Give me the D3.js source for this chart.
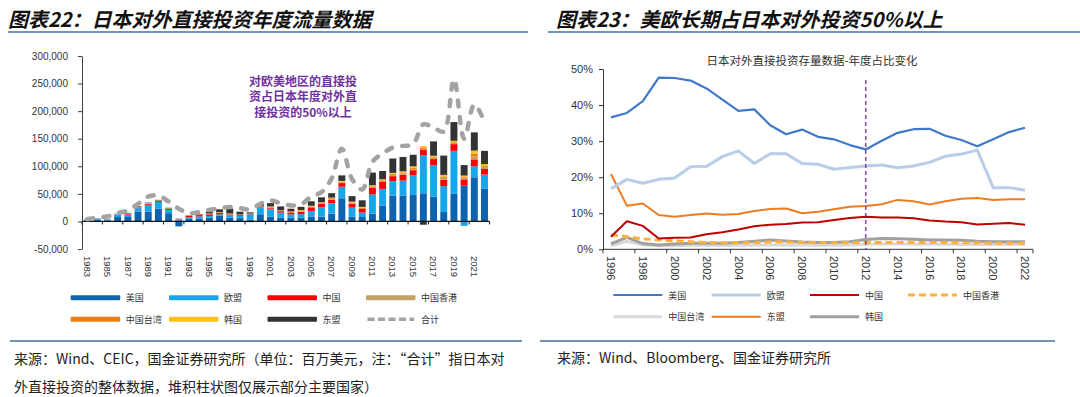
<!DOCTYPE html>
<html><head><meta charset="utf-8">
<script src="https://cdn.jsdelivr.net/npm/d3@7/dist/d3.min.js"></script>
<style>body{margin:0;background:#fff}svg{display:block}</style>
</head><body>
<svg id="c" width="1080" height="397"></svg>
<script>
// ---------- Left chart data: Japan outward FDI flows (USD mn) ----------
const flowYears = [1983,1984,1985,1986,1987,1988,1989,1990,1991,1992,1993,1994,1995,1996,1997,1998,1999,2000,2001,2002,2003,2004,2005,2006,2007,2008,2009,2010,2011,2012,2013,2014,2015,2016,2017,2018,2019,2020,2021,2022];
const usFlow = [1500,3000,2000,8000,8000,18000,18000,23000,15000,-9000,5000,5500,7000,10000,7000,6000,3000,13000,9000,7000,7000,7000,9000,8500,14000,42000,9000,8000,14000,29000,47000,47000,48000,51000,45000,17000,50000,65000,80000,59000];
const euFlow = [1500,2000,1500,4500,4000,6000,12000,12500,6000,2000,3000,3500,3000,3000,4000,4000,10000,12000,13000,9000,6000,6000,10000,17000,19000,21000,16000,8000,35000,30000,26000,27000,36000,69000,57000,47000,78000,-8000,20000,26000];
const cnFlow = [0,0,100,200,1200,1500,1500,1500,1800,1600,2000,2500,3000,2500,1800,1500,800,1000,2000,2600,3100,4500,6500,6200,6200,6500,6900,7300,12600,13500,9100,10900,8900,9500,11100,11400,12200,11200,12500,11000];
const hkFlow = [100,200,100,300,500,600,600,500,400,300,300,300,500,500,700,500,-1500,-1000,1200,500,-1000,1000,1000,1000,1500,1500,1500,-1000,1500,1500,2500,2000,2500,2000,2500,3500,2000,3000,5000,3000];
const twFlow = [100,100,100,200,300,400,400,300,300,300,300,300,500,500,500,300,300,1000,1500,600,1500,1000,1000,1000,1500,1000,1000,1500,1000,1000,1500,2000,2000,2500,1500,2500,1500,2000,5000,2500];
const krFlow = [100,100,100,200,400,500,600,300,300,200,200,400,400,400,400,300,400,500,500,500,500,1000,1000,1000,1000,1500,1500,1500,1500,1500,2000,2000,2500,2500,2000,3000,2500,2000,6000,2500];
const aseanFlow = [300,300,300,500,1000,1000,1000,1000,1000,500,500,1000,3500,5000,9000,5000,2000,5000,6000,7000,5000,6000,8000,9000,8000,10000,10000,12000,23000,15000,26000,26000,21000,-6000,26000,35000,34000,19000,33000,24000];
const totalFlow = [4000,7000,9000,15000,20000,32000,45000,47000,36000,23000,15000,17000,21000,24000,26000,24000,22000,32000,38000,33000,29000,31000,45000,53000,78000,132000,77000,58000,108000,123000,134000,137000,140000,176000,170000,163000,258000,150000,212000,180000];
const flowTicks = [-50000,0,50000,100000,150000,200000,250000,300000];
const flowYearLabels = [1983,1985,1987,1989,1991,1993,1995,1997,1999,2001,2003,2005,2007,2009,2011,2013,2015,2017,2019,2021];
const flowKeys = ["美国","欧盟","中国","中国香港","中国台湾","韩国","东盟"];
const flowColors = ["#0E63AF","#17A6EA","#FF0000","#C4A263","#EC7D12","#FAC11E","#333333"];

// ---------- Right chart data: share of Japan outward FDI stock (%) ----------
const stockYears = [1996,1997,1998,1999,2000,2001,2002,2003,2004,2005,2006,2007,2008,2009,2010,2011,2012,2013,2014,2015,2016,2017,2018,2019,2020,2021,2022];
const usShare = [36.6,37.8,41.1,47.6,47.5,46.8,44.6,41.5,38.4,38.8,34.4,31.9,33.2,31.2,30.5,28.9,27.7,30.1,32.3,33.3,33.4,31.5,30.3,28.6,30.5,32.5,33.7];
const euShare = [16.8,19.4,18.3,19.4,19.8,22.9,23.0,25.7,27.3,23.8,26.5,26.5,23.8,23.6,22.2,22.7,23.1,23.4,22.6,23.1,24.1,25.8,26.4,27.5,17.1,17.1,16.4];
const cnShare = [3.5,7.8,6.5,3.0,3.2,3.3,4.2,4.7,5.5,6.4,6.8,7.0,7.4,7.5,8.1,8.7,9.0,8.8,8.8,8.6,8.0,7.7,7.5,6.9,7.1,7.3,6.8];
const hkShare = [4.0,3.5,2.9,2.6,2.3,2.1,1.9,1.8,1.8,1.8,2.0,2.0,1.9,1.8,1.8,1.8,1.9,1.9,1.9,1.9,1.9,1.9,1.8,1.8,1.7,1.7,1.7];
const twShare = [1.0,2.2,1.2,1.0,1.0,1.1,1.1,1.1,1.1,1.2,1.2,1.2,1.2,1.1,1.1,1.2,1.4,1.5,1.5,1.4,1.4,1.4,1.3,1.3,1.3,1.3,1.3];
const krShare = [1.5,3.3,1.6,1.2,1.5,1.7,1.7,1.7,1.9,2.2,2.6,2.3,2.0,1.9,1.9,2.1,2.7,3.0,2.9,2.8,2.6,2.6,2.5,2.2,2.1,2.1,2.1];
const aseanShare = [20.9,12.1,12.7,9.5,9.0,9.5,9.9,9.6,9.8,10.6,11.2,11.3,10.0,10.4,11.1,11.8,12.0,12.5,13.7,13.3,12.4,13.3,14.0,14.2,13.7,13.9,13.9];
const shareTicks = [0,10,20,30,40,50];
const stockYearLabels = [1996,1998,2000,2002,2004,2006,2008,2010,2012,2014,2016,2018,2020,2022];

const CJK = "'Noto Sans CJK SC','Noto Sans',sans-serif";
const NUM = "'Liberation Sans',Arial,sans-serif";
const svg = d3.select("#c");

// ---------- Titles & rules ----------
const ruleColor = "#41709A";
svg.append("text").attr("x",8).attr("y",18).attr("dominant-baseline","central")
  .attr("font-family",CJK).attr("font-size",20).attr("font-weight","bold").attr("font-style","italic")
  .attr("fill","#111").text("图表22：日本对外直接投资年度流量数据");
svg.append("text").attr("x",556).attr("y",18).attr("dominant-baseline","central")
  .attr("font-family",CJK).attr("font-size",20).attr("font-weight","bold").attr("font-style","italic")
  .attr("fill","#111").text("图表23：美欧长期占日本对外投资50%以上");
[[8,528,32],[548,1080,32],[10,522,341],[540,1055,341]].forEach(([a,b,y])=>{
  svg.append("line").attr("x1",a).attr("x2",b).attr("y1",y).attr("y2",y)
    .attr("stroke",ruleColor).attr("stroke-width",1.4);
});

// ---------- Left chart ----------
const xL = d3.scaleBand().domain(flowYears).range([82,489.6]).padding(0);
const yL = d3.scaleLinear().domain([-50000,300000]).range([249,56]);
const gL = svg.append("g");

const flowRows = flowYears.map((yr,i)=>({year:yr,"美国":usFlow[i],"欧盟":euFlow[i],"中国":cnFlow[i],"中国香港":hkFlow[i],"中国台湾":twFlow[i],"韩国":krFlow[i],"东盟":aseanFlow[i]}));
const stacked = d3.stack().keys(flowKeys).offset(d3.stackOffsetDiverging)(flowRows);
const bw = xL.bandwidth();
stacked.forEach((s,si)=>{
  gL.append("g").attr("fill",flowColors[si]).selectAll("rect").data(s).join("rect")
    .attr("x",d=>xL(d.data.year)+bw*0.16)
    .attr("width",bw*0.68)
    .attr("y",d=>yL(Math.max(d[0],d[1])))
    .attr("height",d=>Math.abs(yL(d[0])-yL(d[1])));
});

// y axis
const axL = gL.append("g").attr("transform","translate(82,0)")
  .call(d3.axisLeft(yL).tickValues(flowTicks).tickSize(4).tickSizeOuter(0).tickPadding(10)
    .tickFormat(d=>(d<0?"-":"")+d3.format(",")(Math.abs(d))));
axL.select(".domain").attr("stroke","#404040");
axL.selectAll(".tick line").attr("stroke","#404040");
axL.selectAll("text").attr("font-family",NUM).attr("font-size",10).attr("fill","#333");

// zero baseline with ticks every two bands
gL.append("line").attr("x1",82).attr("x2",489.6).attr("y1",yL(0)).attr("y2",yL(0))
  .attr("stroke","#111").attr("stroke-width",1.2);
const bTicks = flowYears.filter((d,i)=>i%2===0).map(d=>xL(d)).concat([xL.range()[1]]);
gL.selectAll(".bt").data(bTicks).join("line").attr("x1",d=>d).attr("x2",d=>d)
  .attr("y1",yL(0)).attr("y2",yL(0)+3).attr("stroke","#111");

// x labels
gL.selectAll(".xl").data(flowYearLabels).join("text")
  .attr("transform",d=>`translate(${xL(d)+bw/2},256) rotate(90)`)
  .attr("dy","0.35em").attr("font-family",NUM).attr("font-size",9.5).attr("fill","#333").text(d=>d);

// total dashed line
gL.append("path").datum(flowYears.map((yr,i)=>[xL(yr)+bw/2,yL(totalFlow[i])]))
  .attr("d",d3.line().curve(d3.curveCatmullRom.alpha(0.5)))
  .attr("fill","none").attr("stroke","#A3A3A3").attr("stroke-width",4.5)
  .attr("stroke-linecap","round").attr("stroke-dasharray","6,10.5");

// annotation
["对欧美地区的直接投","资占日本年度对外直","接投资的50%以上"].forEach((t,i)=>{
  gL.append("text").attr("x",303).attr("y",80+i*15.5).attr("dominant-baseline","central")
    .attr("text-anchor","middle").attr("font-family",CJK).attr("font-size",12).attr("font-weight","bold")
    .attr("fill","#7030A0").text(t);
});

// left legend
const legL = [[70.7,297.7],[169,297.7],[267.5,297.7],[366,297.7],[70.7,319.3],[169,319.3],[267.5,319.3],[366,319.3]];
flowKeys.forEach((k,i)=>{
  const [lx,ly] = legL[i];
  svg.append("rect").attr("x",lx).attr("y",ly-2.5).attr("width",49.5).attr("height",5).attr("rx",1)
    .attr("fill",flowColors[i]);
  svg.append("text").attr("x",lx+55).attr("y",ly).attr("dominant-baseline","central")
    .attr("font-family",CJK).attr("font-size",9).attr("fill","#333").text(k);
});
svg.append("line").attr("x1",legL[7][0]+1.5).attr("x2",legL[7][0]+48).attr("y1",legL[7][1]).attr("y2",legL[7][1])
  .attr("stroke","#A3A3A3").attr("stroke-width",3.5).attr("stroke-dasharray","7,3.5");
svg.append("text").attr("x",legL[7][0]+55).attr("y",legL[7][1]).attr("dominant-baseline","central")
  .attr("font-family",CJK).attr("font-size",9).attr("fill","#333").text("合计");

// ---------- Right chart ----------
const xR = d3.scaleBand().domain(stockYears).range([603,1033]).padding(0);
const yR = d3.scaleLinear().domain([0,50]).range([249.3,69]);
const gR = svg.append("g");
const bwR = xR.bandwidth();

const axR = gR.append("g").attr("transform","translate(603,0)")
  .call(d3.axisLeft(yR).tickValues(shareTicks).tickSize(4).tickSizeOuter(0).tickPadding(6).tickFormat(d=>d+"%"));
axR.select(".domain").attr("stroke","#333");
axR.selectAll(".tick line").attr("stroke","#333");
axR.selectAll("text").attr("font-family",NUM).attr("font-size",11).attr("fill","#333");

gR.append("line").attr("x1",603).attr("x2",1033).attr("y1",yR(0)).attr("y2",yR(0)).attr("stroke","#333");
const rTicks = stockYears.filter((d,i)=>i%2===0).map(d=>xR(d)).concat([xR.range()[1]]);
gR.selectAll(".rt").data(rTicks).join("line").attr("x1",d=>d).attr("x2",d=>d)
  .attr("y1",yR(0)).attr("y2",yR(0)+4).attr("stroke","#333");
gR.selectAll(".xl").data(stockYearLabels).join("text")
  .attr("transform",d=>`translate(${xR(d)+bwR/2},256) rotate(90)`)
  .attr("dy","0.35em").attr("font-family",NUM).attr("font-size",11).attr("fill","#333").text(d=>d);

const rSeries = [
  {name:"中国台湾",vals:twShare,color:"#D9D9D9",w:3,dash:null},
  {name:"韩国",vals:krShare,color:"#A0A0A0",w:3,dash:null},
  {name:"中国香港",vals:hkShare,color:"#FFB13D",w:3,dash:"7,4"},
  {name:"东盟",vals:aseanShare,color:"#ED7D22",w:2,dash:null},
  {name:"中国",vals:cnShare,color:"#C00000",w:2,dash:null},
  {name:"欧盟",vals:euShare,color:"#B7CDE8",w:3,dash:null},
  {name:"美国",vals:usShare,color:"#3F79C8",w:2.2,dash:null}
];
const lineR = d3.line().x(d=>xR(d[0])+bwR/2).y(d=>yR(d[1]));
rSeries.forEach(s=>{
  gR.append("path").datum(stockYears.map((yr,i)=>[yr,s.vals[i]])).attr("d",lineR)
    .attr("fill","none").attr("stroke",s.color).attr("stroke-width",s.w)
    .attr("stroke-linejoin","round").attr("stroke-dasharray",s.dash);
});
// 2012 marker
gR.append("line").attr("x1",xR(2012)+bwR/2).attr("x2",xR(2012)+bwR/2).attr("y1",80).attr("y2",yR(0))
  .attr("stroke","#7030A0").attr("stroke-width",1.3).attr("stroke-dasharray","4,3");
gR.append("text").attr("x",812).attr("y",60).attr("dominant-baseline","central").attr("text-anchor","middle")
  .attr("font-family",CJK).attr("font-size",11.5).attr("fill","#333").text("日本对外直接投资存量数据-年度占比变化");

// right legend
const legROrder = ["美国","欧盟","中国","中国香港","中国台湾","东盟","韩国"];
const legR = [[613.3,295],[711.7,295],[810,295],[908,295],[613.3,316.7],[711.7,316.7],[810,316.7]];
legROrder.forEach((n,i)=>{
  const s = rSeries.find(r=>r.name===n);
  const [lx,ly] = legR[i];
  svg.append("line").attr("x1",lx).attr("x2",lx+49).attr("y1",ly).attr("y2",ly)
    .attr("stroke",s.color).attr("stroke-width",s.w).attr("stroke-dasharray",s.dash);
  svg.append("text").attr("x",lx+55).attr("y",ly).attr("dominant-baseline","central")
    .attr("font-family",CJK).attr("font-size",9).attr("fill","#333").text(n);
});

// ---------- Footers ----------
[["来源：Wind、CEIC，国金证券研究所（单位：百万美元，注：“合计”指日本对",14,358],
 ["外直接投资的整体数据，堆积柱状图仅展示部分主要国家）",14,386],
 ["来源：Wind、Bloomberg、国金证券研究所",557,357]].forEach(([t,x,y])=>{
  svg.append("text").attr("x",x).attr("y",y).attr("dominant-baseline","central")
    .attr("font-family",CJK).attr("font-size",14).attr("fill","#222").text(t);
});
</script>
</body></html>
